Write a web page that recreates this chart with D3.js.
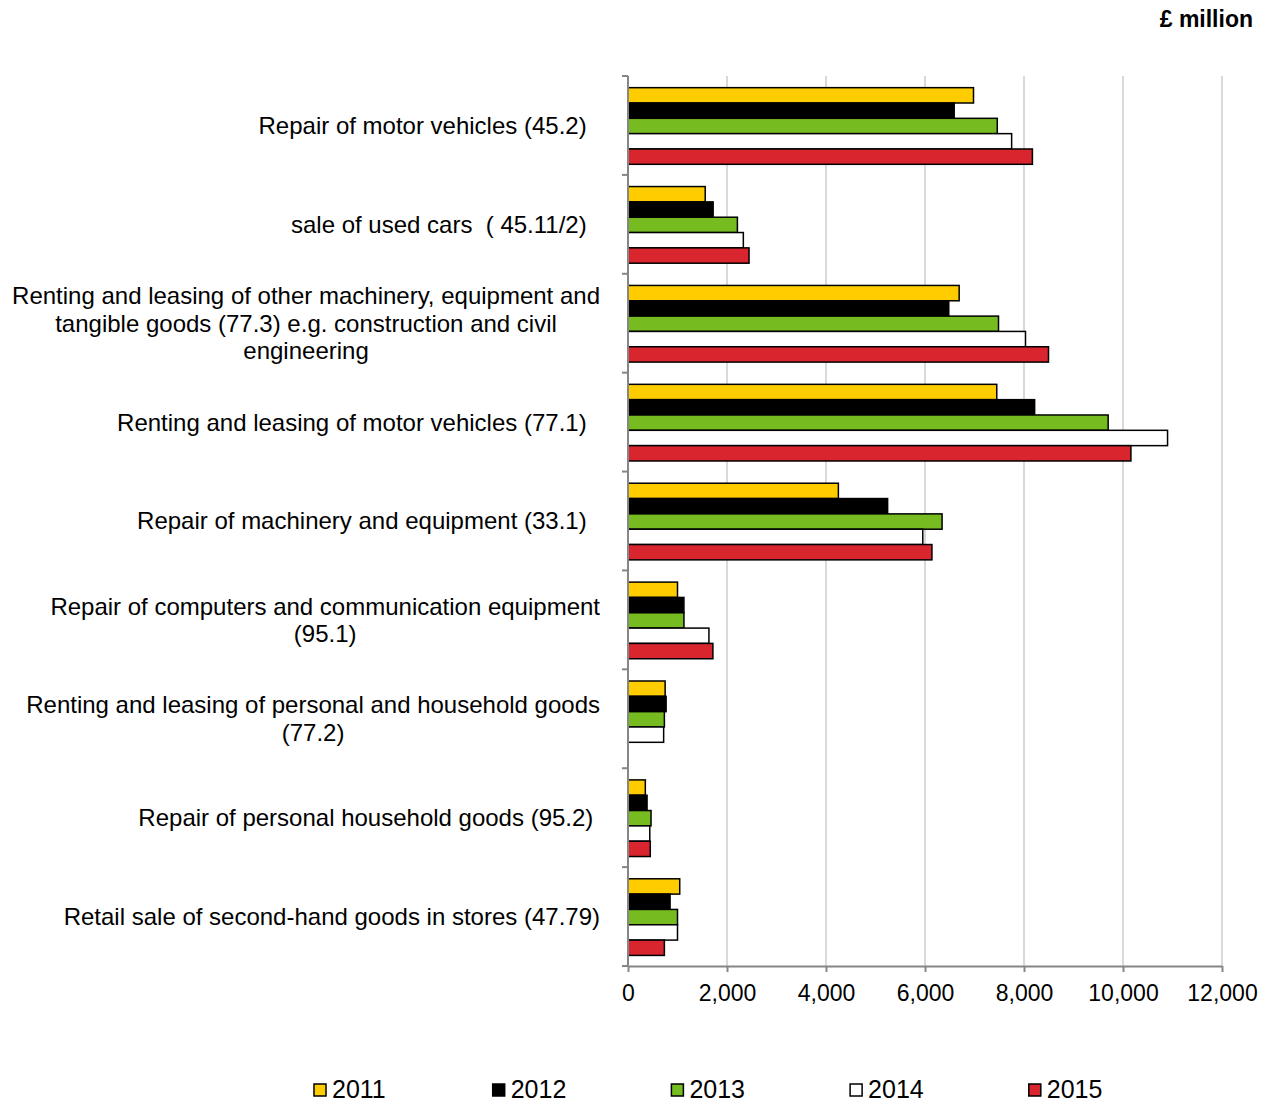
<!DOCTYPE html>
<html>
<head>
<meta charset="utf-8">
<script src="https://cdn.jsdelivr.net/npm/d3@7"></script>
<style>
  body { margin: 0; background: #fff; }
  text { font-family: "Liberation Sans", Arial, sans-serif; fill: #000; }
</style>
</head>
<body>
<svg id="paper"></svg>
<script>
// categories, top to bottom (line breaks as in the original labels)
let categories = [
    ["Repair of motor vehicles (45.2)  "],
    ["sale of used cars  ( 45.11/2)  "],
    ["Renting and leasing of other machinery, equipment and", "tangible goods (77.3) e.g. construction and civil", "engineering"],
    ["Renting and leasing of motor vehicles (77.1)  "],
    ["Repair of machinery and equipment (33.1)  "],
    ["Repair of computers and communication equipment", "(95.1)"],
    ["Renting and leasing of personal and household goods", "(77.2)"],
    ["Repair of personal household goods (95.2) "],
    ["Retail sale of second-hand goods in stores (47.79)"]
];
let years = ["2011", "2012", "2013", "2014", "2015"];
let colorList = ["#ffcc00", "#000000", "#76bc21", "#ffffff", "#d9262e"];

// £ million, one array per year, same order as categories
let v2011 = [6980, 1560, 6690, 7450, 4250, 1000, 750, 350, 1045];
let v2012 = [6590, 1720, 6480, 8215, 5245, 1130, 770, 385, 850];
let v2013 = [7460, 2210, 7485, 9700, 6345, 1130, 735, 465, 1000];
let v2014 = [7750, 2330, 8030, 10900, 5955, 1635, 720, 440, 1000];
let v2015 = [8170, 2445, 8495, 10160, 6140, 1715, null, 450, 735];
let series = [v2011, v2012, v2013, v2014, v2015];

let xTicks = [0, 2000, 4000, 6000, 8000, 10000, 12000];

let margin = {top: 76, right: 48, bottom: 138, left: 628},
    width = 1270 - margin.left - margin.right,
    height = 1104 - margin.top - margin.bottom;

let svg = d3.select("#paper")
    .attr("width", 1270)
    .attr("height", 1104);
let paper = svg.append("g")
    .attr("transform", "translate(" + margin.left + "," + margin.top + ")");

let x = d3.scaleLinear().domain([0, 12000]).range([0, width]);
let y = d3.scaleBand().domain(d3.range(categories.length)).range([0, height]);
let yInner = d3.scaleBand().domain(years)
    .range([y.bandwidth() * 0.118, y.bandwidth() * 0.893]);
let color = d3.scaleOrdinal().domain(years).range(colorList);

// gridlines
paper.append("g")
    .selectAll("line")
    .data(xTicks.slice(1))
    .enter()
    .append("line")
    .attr("x1", d => x(d)).attr("x2", d => x(d))
    .attr("y1", 0).attr("y2", height)
    .style("stroke", "#d9d9d9")
    .style("stroke-width", 2);

// bars
let groups = paper.selectAll("g.cat")
    .data(categories)
    .enter()
    .append("g")
    .attr("class", "cat")
    .attr("transform", (d, i) => "translate(0," + y(i) + ")");

groups.selectAll("rect")
    .data((d, i) => years.map((yr, j) => ({year: yr, value: series[j][i]})).filter(b => b.value != null))
    .enter()
    .append("rect")
    .attr("x", x(0))
    .attr("y", d => yInner(d.year))
    .attr("width", d => x(d.value) - x(0))
    .attr("height", yInner.bandwidth())
    .style("fill", d => color(d.year))
    .style("stroke", "#000")
    .style("stroke-width", 1.5);

// x axis
let xAxis = paper.append("g")
    .attr("transform", "translate(0," + height + ")")
    .call(d3.axisBottom(x).tickValues(xTicks).tickFormat(d3.format(",")).tickSizeInner(6).tickSizeOuter(0).tickPadding(13));
xAxis.select(".domain").style("stroke", "#868686").style("stroke-width", 2);
xAxis.selectAll(".tick line").style("stroke", "#868686").style("stroke-width", 2);
xAxis.selectAll(".tick text").style("font-size", "23px").style("font-family", "Liberation Sans, Arial, sans-serif");

// y axis line + category separator ticks
paper.append("line")
    .attr("x1", 0).attr("x2", 0).attr("y1", 0).attr("y2", height)
    .style("stroke", "#868686").style("stroke-width", 2);
paper.append("g")
    .selectAll("line")
    .data(d3.range(categories.length + 1))
    .enter()
    .append("line")
    .attr("x1", -6).attr("x2", 0)
    .attr("y1", d => d * y.step()).attr("y2", d => d * y.step())
    .style("stroke", "#868686").style("stroke-width", 2);

// category labels: lines centred on each other, block right-aligned
let fs = 24, lh = 27.5, labelRight = 600;
categories.forEach(function (lines, i) {
    let t = svg.append("text")
        .attr("xml:space", "preserve")
        .style("font-size", fs + "px")
        .style("white-space", "pre")
        .attr("text-anchor", "middle");
    let cy = margin.top + y(i) + y.bandwidth() / 2;
    let spans = t.selectAll("tspan")
        .data(lines)
        .enter()
        .append("tspan")
        .attr("y", (d, k) => cy + (k - (lines.length - 1) / 2) * lh + fs * 0.35)
        .text(d => d);
    let maxW = 0;
    spans.each(function () { maxW = Math.max(maxW, this.getComputedTextLength()); });
    spans.attr("x", labelRight - maxW / 2);
});

// unit label
svg.append("text")
    .attr("x", 1253).attr("y", 27)
    .attr("text-anchor", "end")
    .style("font-size", "23px")
    .style("font-weight", "bold")
    .text("£ million");

// legend
let legend = svg.append("g")
    .attr("transform", "translate(314,1084)");
let items = legend.selectAll("g")
    .data(years)
    .enter()
    .append("g")
    .attr("transform", (d, i) => "translate(" + i * 178.7 + ",0)");
items.append("rect")
    .attr("width", 12).attr("height", 12)
    .style("fill", d => color(d))
    .style("stroke", "#000")
    .style("stroke-width", 1.5);
items.append("text")
    .attr("x", 18).attr("y", 14)
    .style("font-size", "25px")
    .text(d => d);
</script>
</body>
</html>
